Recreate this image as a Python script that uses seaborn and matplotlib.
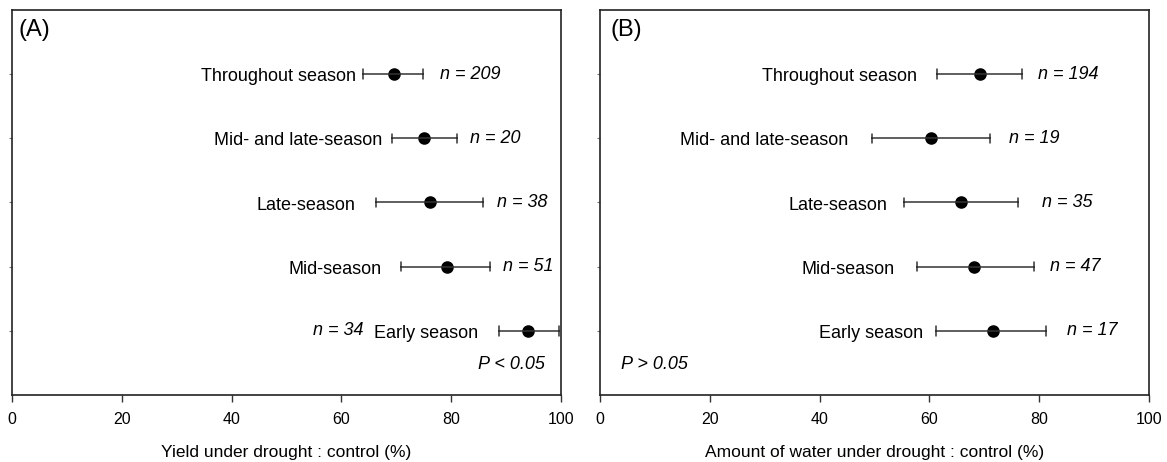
import numpy as np
import pandas as pd
import seaborn as sns
import matplotlib.pyplot as plt

stages = ["Throughout season", "Mid- and late-season", "Late-season", "Mid-season", "Early season"]

yield_mean = [69.6, 75.0, 76.1, 79.2, 94.0]
yield_low = [63.9, 69.2, 66.3, 70.9, 88.7]
yield_high = [74.9, 81.1, 85.8, 87.1, 99.6]
yield_n = [209, 20, 38, 51, 34]

water_mean = [69.2, 60.3, 65.8, 68.1, 71.6]
water_low = [61.4, 49.6, 55.4, 57.7, 61.2]
water_high = [76.9, 71.0, 76.1, 79.1, 81.2]
water_n = [194, 19, 35, 47, 17]

# where the row names end and the n labels sit (x in data units)
yield_name_x = [62.7, 67.4, 62.5, 67.4, 84.9]
yield_n_x = [78.0, 83.4, 88.3, 89.4, 64.0]
yield_n_ha = ["left", "left", "left", "left", "right"]
water_name_x = [57.7, 45.2, 52.3, 53.7, 58.8]
water_n_x = [79.8, 74.5, 80.5, 82.0, 85.1]
water_n_ha = ["left"] * 5


def long_form(low, mean, high):
    """Three rows per stage so median = mean and min/max = interval"""
    rows = []
    for s, lo, m, hi in zip(stages, low, mean, high):
        for v in (lo, m, hi):
            rows.append({"stage": s, "value": v})
    return pd.DataFrame(rows)


def draw_panel(ax, low, mean, high, n, name_x, n_x, n_ha, letter, letter_x, ptext, p_x, p_ha, xlabel):
    df = long_form(low, mean, high)
    sns.pointplot(data=df, x="value", y="stage", order=stages, orient="h",
                  estimator="median", errorbar=("pi", 100), capsize=0.15,
                  color="black", linestyle="none", markers="o", markersize=7,
                  err_kws={"linewidth": 1.1, "color": "#333333"}, ax=ax)
    ax.set_xlim(0, 100)
    ax.set_ylim(5, -1)
    ax.set_xticks([0, 20, 40, 60, 80, 100])
    ax.set_yticks(range(5))
    ax.set_yticklabels([])
    ax.set_ylabel("")
    ax.set_xlabel(xlabel, fontsize=12.5, labelpad=13, color="black")
    ax.tick_params(axis="x", bottom=True, direction="out", length=5, width=1, color="#333333",
                   labelsize=11.5, labelcolor="black", pad=7)
    ax.tick_params(axis="y", left=True, direction="out", length=2, width=0.8, color="#777777")
    for sp in ax.spines.values():
        sp.set_visible(True)
        sp.set_color("#222222")
        sp.set_linewidth(1.2)

    for i, s in enumerate(stages):
        ax.text(name_x[i], i + 0.04, s, ha="right", va="center", fontsize=13, color="black")
        ax.text(n_x[i], i, f"n = {n[i]}", ha=n_ha[i], va="center", fontsize=13,
                style="italic", color="black")

    ax.text(p_x, 4.53, ptext, ha=p_ha, va="center", fontsize=13, style="italic", color="black")
    ax.text(letter_x, 0.948, letter, transform=ax.transAxes, ha="left", va="center",
            fontsize=17, color="black")


sns.set_style("white")
plt.rcParams["font.family"] = ["Liberation Sans", "DejaVu Sans"]

fig = plt.figure(figsize=(11.67, 4.62), dpi=100)
ax1 = fig.add_axes([12 / 1167, 1 - 395 / 462, 549 / 1167, 385 / 462])
ax2 = fig.add_axes([600 / 1167, 1 - 395 / 462, 549 / 1167, 385 / 462])

draw_panel(ax1, yield_low, yield_mean, yield_high, yield_n, yield_name_x, yield_n_x, yield_n_ha,
           "(A)", 0.012, "P < 0.05", 97.1, "right", "Yield under drought : control (%)")
draw_panel(ax2, water_low, water_mean, water_high, water_n, water_name_x, water_n_x, water_n_ha,
           "(B)", 0.02, "P > 0.05", 3.8, "left", "Amount of water under drought : control (%)")

fig.savefig("out.png", dpi=100)
